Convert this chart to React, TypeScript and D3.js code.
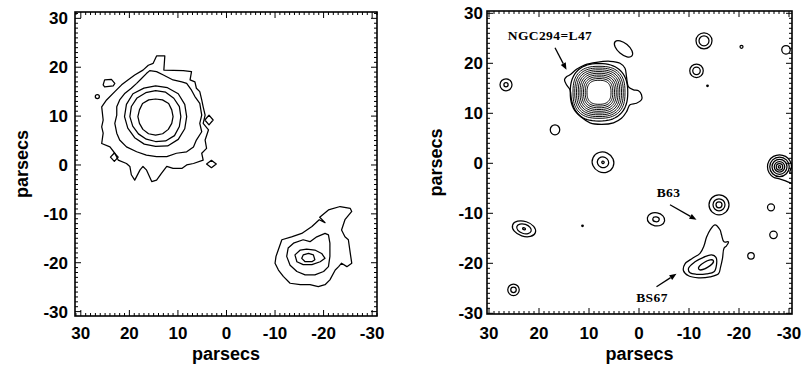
import React from "react";
import * as d3 from "d3";

type P = [number, number];

// ---------------- shared axis data ----------------
const TICKS = [30, 20, 10, 0, -10, -20, -30];
const AXIS_TITLE = "parsecs";

// ---------------- left panel (parsecs) ----------------
const LEFT_X_DOMAIN: P = [31.2, -31.0];
const LEFT_Y_DOMAIN: P = [31.3, -30.9];

const bigCenter: P = [14.6, 9.9];
// radii at 16 directions (E, ENE, NE, ... counter-clockwise on screen)
const bigRingRadii: number[][] = [
  [3.6, 3.6, 3.8, 3.7, 3.6, 3.7, 3.8, 3.6, 3.65, 3.6, 3.7, 3.8, 3.8, 3.8, 3.7, 3.6],
  [5.2, 5.3, 5.3, 5.4, 5.3, 5.3, 5.4, 5.4, 5.3, 5.1, 5.0, 5.0, 5.1, 5.4, 5.5, 5.3],
  [6.4, 6.5, 6.6, 6.4, 6.3, 6.3, 6.6, 6.5, 6.4, 6.2, 6.1, 6.1, 6.1, 6.5, 6.6, 6.5],
];

const bigContour4: P[] = [
  [15.8, 19.3], [14.4, 19.1], [13.0, 18.4], [11.0, 17.4], [9.2, 17.0], [8.2, 16.7],
  [7.2, 15.3], [6.5, 14.0], [5.5, 12.6], [5.1, 10.2], [5.5, 8.5], [5.1, 6.8],
  [6.2, 5.1], [6.8, 3.7], [8.2, 2.7], [10.3, 2.4], [12.3, 1.7], [14.4, 1.7],
  [16.5, 2.0], [18.5, 2.7], [20.6, 3.7], [22.0, 5.1], [22.6, 6.5], [23.0, 8.5],
  [22.6, 10.2], [22.6, 11.9], [22.0, 13.3], [20.9, 14.7], [19.6, 15.7], [18.5, 16.7],
  [17.5, 17.7], [16.5, 18.7],
];

const bigOuter: P[] = [
  [14.4, 22.3], [12.7, 22.3], [12.9, 19.4], [8.9, 19.3], [7.2, 19.1], [7.5, 17.4],
  [6.5, 17.0], [6.2, 15.7], [5.5, 15.0], [5.1, 13.3], [4.8, 11.9], [4.4, 10.2],
  [4.8, 8.5], [3.7, 7.2], [4.4, 5.1], [4.1, 3.4], [5.1, 2.4], [4.8, 1.0],
  [6.8, 0.3], [8.2, 0.0], [9.2, -0.7], [11.0, -0.7], [12.3, -0.3], [13.4, -1.7],
  [14.4, -3.1], [15.4, -3.4], [16.5, -1.0], [17.2, -0.3], [17.8, -1.0], [18.9, -3.1],
  [19.6, -2.0], [19.9, -0.3], [20.6, 0.3], [22.3, 1.0], [23.0, 2.4], [24.0, 3.7],
  [25.7, 4.4], [25.4, 6.5], [25.7, 7.8], [25.4, 9.2], [25.7, 11.9], [24.7, 13.3],
  [23.0, 15.0], [21.6, 16.4], [20.3, 17.4], [18.9, 18.4], [17.2, 19.4], [16.1, 20.4],
  [15.1, 20.8],
];

const islandPolys: P[][] = [
  [[25.1, 17.4], [23.7, 17.5], [23.0, 16.7], [23.3, 16.2], [25.1, 16.0], [25.4, 16.4]],
];
// small islands: centre + radii at E, N, W, S
const islandDiamonds: { c: P; r: number[] }[] = [
  { c: [3.6, 9.2], r: [0.85, 1.0, 0.85, 1.0] },
  { c: [23.1, 1.6], r: [0.8, 0.85, 0.8, 0.85] },
  { c: [3.1, 0.2], r: [1.0, 0.75, 1.0, 0.75] },
];
const islandCircles: { c: P; r: number }[] = [{ c: [26.6, 14.0], r: 0.42 }];

const southOuter: P[] = [
  [-10.2, -18.7], [-11.4, -15.3], [-13.4, -14.7], [-15.5, -14.0], [-17.6, -12.6],
  [-19.1, -11.2], [-20.3, -11.8], [-19.2, -10.7], [-21.0, -9.2], [-23.4, -8.5],
  [-25.5, -8.9], [-25.8, -9.5], [-24.4, -11.2], [-23.7, -13.3], [-24.4, -14.7],
  [-25.1, -15.3], [-25.5, -18.1], [-25.8, -20.1], [-24.8, -20.8], [-23.7, -20.1],
  [-23.1, -20.8], [-22.4, -21.5], [-21.3, -23.5], [-20.3, -24.5], [-18.9, -24.9],
  [-17.2, -24.5], [-15.2, -24.5], [-13.1, -24.2], [-11.7, -22.8], [-10.7, -21.5],
  [-10.0, -20.1],
];
const southMiddle: P[] = [
  [-12.4, -18.7], [-12.7, -17.0], [-13.8, -16.0], [-15.8, -15.3], [-17.2, -15.7],
  [-18.6, -14.7], [-20.3, -14.0], [-21.0, -14.3], [-21.3, -16.0], [-21.3, -18.7],
  [-21.0, -20.8], [-20.0, -21.8], [-18.2, -22.5], [-16.2, -22.5], [-14.5, -21.8],
  [-13.1, -20.5],
];
const southRing2: P[] = [
  [-14.1, -18.4], [-15.2, -17.4], [-16.5, -17.2], [-18.2, -17.4], [-19.6, -18.1],
  [-20.3, -19.1], [-19.3, -19.8], [-17.6, -20.4], [-15.8, -20.4], [-14.5, -19.8],
];
const southInner: P[] = [
  [-15.5, -19.1], [-15.8, -18.4], [-16.9, -18.1], [-17.9, -18.4], [-18.2, -19.4],
  [-17.6, -19.8], [-16.2, -19.8],
];

// ---------------- right panel (parsecs) ----------------
const RIGHT_X_DOMAIN: P = [30.4, -30.6];
const RIGHT_Y_DOMAIN: P = [30.46, -30.14];

const ngcCenter: P = [8.0, 14.2];
const ngcStackRadii = [5.2, 4.85, 4.5, 4.15, 3.8, 3.45, 3.1, 2.75, 2.4];
const ngcSecondRadius = 5.75;
const ngcOuter: P[] = [
  [14.5, 17.3], [13.8, 17.7], [12.5, 18.8], [10.8, 19.7], [8.5, 20.2], [5.8, 20.4],
  [3.8, 20.0], [2.8, 19.0], [2.5, 17.3], [2.1, 15.3], [1.1, 14.7], [0.1, 14.5],
  [-0.5, 13.7], [-0.5, 12.7], [0.5, 12.0], [1.8, 11.7], [2.5, 10.3], [3.5, 9.0],
  [5.1, 8.1], [7.5, 7.8], [9.8, 8.1], [11.5, 9.2], [12.8, 10.7], [13.5, 12.7],
  [13.8, 14.7], [14.5, 15.7], [14.9, 16.7],
];

// concentric sources: centre, ring radii, axis ratio, tilt (screen degrees)
const ringSources: { c: P; radii: number[]; ratio?: number; angle?: number }[] = [
  { c: [26.6, 15.7], radii: [1.2, 0.42] },
  { c: [16.8, 6.7], radii: [0.95], ratio: 1.05 },
  { c: [7.2, 0.2], radii: [2.2, 1.15, 0.25], ratio: 0.92, angle: 25 },
  { c: [23.0, -13.1], radii: [2.4, 1.5, 0.3], ratio: 0.62, angle: 18 },
  { c: [25.1, -25.3], radii: [1.15, 0.55] },
  { c: [-3.4, -11.2], radii: [1.75, 0.65], ratio: 0.75, angle: 10 },
  { c: [3.1, 22.9], radii: [2.2], ratio: 0.5, angle: 40 },
  { c: [-13.0, 24.5], radii: [1.6, 1.0] },
  { c: [-11.5, 18.5], radii: [1.35, 0.75] },
  { c: [-20.5, 23.3], radii: [0.3] },
  { c: [-29.4, 22.7], radii: [0.85] },
  { c: [-16.0, -8.3], radii: [2.0, 1.2, 0.6] },
  { c: [-26.4, -8.8], radii: [0.7] },
  { c: [-26.9, -14.3], radii: [0.75] },
  { c: [-22.4, -18.5], radii: [0.65] },
  { c: [-28.1, -0.7], radii: [1.95, 1.5, 1.05, 0.65, 0.25] },
];
const dotSources: P[] = [[11.3, -12.5], [-13.7, 15.5]];

const edgeSourceOuter: P[] = [
  [-30.18, -1.9], [-30.5, -0.7], [-30.18, 0.5], [-29.3, 1.38], [-28.1, 1.7],
  [-26.9, 1.38], [-26.02, 0.5], [-25.7, -0.7], [-26.02, -1.9], [-26.9, -2.78],
  [-28.1, -3.1], [-29.0, -3.4], [-30.0, -3.8], [-31.5, -4.2], [-31.5, -2.0],
];

const b63Outer: P[] = [
  [-15.2, -12.3], [-16.2, -13.3], [-16.5, -14.3], [-17.0, -15.7], [-17.9, -15.7],
  [-17.5, -16.5], [-17.0, -17.0], [-16.7, -19.0], [-16.3, -20.8], [-15.9, -22.1],
  [-14.2, -22.7], [-11.9, -22.9], [-9.9, -22.5], [-8.9, -21.5], [-9.2, -20.1],
  [-10.7, -19.0], [-12.2, -18.0], [-13.0, -16.5], [-13.5, -14.8], [-14.3, -13.2],
];
const bs67Middle: P[] = [
  [-9.9, -21.0], [-11.2, -19.7], [-12.9, -18.8], [-14.5, -18.3], [-15.4, -18.8],
  [-15.5, -20.3], [-15.0, -21.7], [-13.5, -22.1], [-11.5, -22.2], [-10.2, -21.9],
];
const bs67Inner = { c: [-13.4, -20.3] as P, a: 1.7, b: 0.6, angle: -30 };

const labelTexts = ["NGC294=L47", "B63", "BS67"];
const labelPositions: P[] = [[17.8, 25.5], [-5.9, -5.8], [-2.6, -26.8]];
const arrowFrom: P[] = [[16.8, 23.1], [-6.2, -8.3], [-3.5, -24.7]];
const arrowTo: P[] = [[14.5, 18.7], [-11.5, -11.3], [-7.5, -22.1]];

// ---------------- layout ----------------
const LEFT_FRAME = { x0: 75, x1: 377, y0: 12, y1: 316, labelGap: 7, titleX: 28 };
const RIGHT_FRAME = { x0: 487, x1: 792, y0: 11, y1: 314, labelGap: 4, titleX: 442 };
const SANS = "'Liberation Sans', Arial, Helvetica, sans-serif";
const SERIF = "'Liberation Serif', 'Times New Roman', serif";

type Frame = typeof LEFT_FRAME;

function Axes({ f, xs, ys, id }: { f: Frame; xs: d3.ScaleLinear<number, number>; ys: d3.ScaleLinear<number, number>; id: string }) {
  const xd = xs.domain();
  const yd = ys.domain();
  const xv = d3.range(Math.ceil(Math.min(...xd)), Math.floor(Math.max(...xd)) + 1);
  const yv = d3.range(Math.ceil(Math.min(...yd)), Math.floor(Math.max(...yd)) + 1);
  const len = (v: number) => (v % 10 === 0 ? 6 : 3);
  return (
    <g>
      {xv.map((v) => (
        <g key={id + "x" + v}>
          <line x1={xs(v)} x2={xs(v)} y1={f.y1} y2={f.y1 - len(v)} stroke="#000" strokeWidth={1} />
          <line x1={xs(v)} x2={xs(v)} y1={f.y0} y2={f.y0 + len(v)} stroke="#000" strokeWidth={1} />
        </g>
      ))}
      {yv.map((v) => (
        <g key={id + "y" + v}>
          <line y1={ys(v)} y2={ys(v)} x1={f.x0} x2={f.x0 + len(v)} stroke="#000" strokeWidth={1} />
          <line y1={ys(v)} y2={ys(v)} x1={f.x1} x2={f.x1 - len(v)} stroke="#000" strokeWidth={1} />
        </g>
      ))}
      <rect x={f.x0} y={f.y0} width={f.x1 - f.x0} height={f.y1 - f.y0} fill="none" stroke="#000" strokeWidth={1.6} />
      {TICKS.map((t) => (
        <text key={id + "xl" + t} x={xs(t)} y={339} textAnchor="middle" fontFamily={SANS} fontWeight="bold" fontSize={17}>
          {t}
        </text>
      ))}
      {TICKS.map((t) => (
        <text key={id + "yl" + t} x={f.x0 - f.labelGap} y={ys(t) + 6} textAnchor="end" fontFamily={SANS} fontWeight="bold" fontSize={17}>
          {t}
        </text>
      ))}
      <text x={(f.x0 + f.x1) / 2} y={360} textAnchor="middle" fontFamily={SANS} fontWeight="bold" fontSize={18}>
        {AXIS_TITLE}
      </text>
      <text
        transform={`translate(${f.titleX},${(f.y0 + f.y1) / 2}) rotate(-90)`}
        textAnchor="middle"
        fontFamily={SANS}
        fontWeight="bold"
        fontSize={18}
      >
        {AXIS_TITLE}
      </text>
    </g>
  );
}

function polar(c: P, radii: number[]): P[] {
  const n = radii.length;
  return radii.map((r, i) => {
    const a = (i / n) * 2 * Math.PI;
    return [c[0] - r * Math.cos(a), c[1] + r * Math.sin(a)] as P;
  });
}

function superellipse(c: P, r: number, n: number, steps = 72): P[] {
  return d3.range(steps).map((i) => {
    const a = (i / steps) * 2 * Math.PI;
    const ca = Math.cos(a), sa = Math.sin(a);
    const px = Math.sign(ca) * Math.pow(Math.abs(ca), 2 / n);
    const py = Math.sign(sa) * Math.pow(Math.abs(sa), 2 / n);
    return [c[0] - r * px, c[1] + r * py] as P;
  });
}

export default function App() {
  const lx = d3.scaleLinear().domain(LEFT_X_DOMAIN).range([LEFT_FRAME.x0, LEFT_FRAME.x1]);
  const ly = d3.scaleLinear().domain(LEFT_Y_DOMAIN).range([LEFT_FRAME.y0, LEFT_FRAME.y1]);
  const rx = d3.scaleLinear().domain(RIGHT_X_DOMAIN).range([RIGHT_FRAME.x0, RIGHT_FRAME.x1]);
  const ry = d3.scaleLinear().domain(RIGHT_Y_DOMAIN).range([RIGHT_FRAME.y0, RIGHT_FRAME.y1]);

  const leftLine = d3.line<P>().x((d) => lx(d[0])).y((d) => ly(d[1])).curve(d3.curveLinearClosed);
  const rightSmooth = d3.line<P>().x((d) => rx(d[0])).y((d) => ry(d[1])).curve(d3.curveCatmullRomClosed.alpha(0.5));
  const rightLin = d3.line<P>().x((d) => rx(d[0])).y((d) => ry(d[1])).curve(d3.curveLinearClosed);

  const rkx = Math.abs(rx(1) - rx(0));
  const rky = Math.abs(ry(1) - ry(0));
  const lkx = Math.abs(lx(1) - lx(0));

  const leftPaths: string[] = [
    ...bigRingRadii.map((r) => leftLine(polar(bigCenter, r)) || ""),
    leftLine(bigContour4) || "",
    leftLine(bigOuter) || "",
    ...islandPolys.map((p) => leftLine(p) || ""),
    ...islandDiamonds.map((d) => leftLine(polar(d.c, d.r)) || ""),
    leftLine(southOuter) || "",
    leftLine(southMiddle) || "",
    leftLine(southRing2) || "",
    leftLine(southInner) || "",
  ];

  const stroke = { fill: "none", stroke: "#000", strokeWidth: 1.25, strokeLinejoin: "round" as const };

  return (
    <svg width={805} height={367} style={{ position: "absolute", left: 0, top: 0, background: "#fff" }}>
      <defs>
        <clipPath id="clipL">
          <rect x={LEFT_FRAME.x0} y={LEFT_FRAME.y0} width={LEFT_FRAME.x1 - LEFT_FRAME.x0} height={LEFT_FRAME.y1 - LEFT_FRAME.y0} />
        </clipPath>
        <clipPath id="clipR">
          <rect x={RIGHT_FRAME.x0} y={RIGHT_FRAME.y0} width={RIGHT_FRAME.x1 - RIGHT_FRAME.x0} height={RIGHT_FRAME.y1 - RIGHT_FRAME.y0} />
        </clipPath>
      </defs>
      <rect x={0} y={0} width={805} height={367} fill="#fff" />

      {/* left panel */}
      <g clipPath="url(#clipL)">
        {leftPaths.map((d, i) => (
          <path key={"lp" + i} d={d} {...stroke} />
        ))}
        {islandCircles.map((c, i) => (
          <circle key={"lc" + i} cx={lx(c.c[0])} cy={ly(c.c[1])} r={c.r * lkx} {...stroke} />
        ))}
      </g>
      <Axes f={LEFT_FRAME} xs={lx} ys={ly} id="L" />

      {/* right panel */}
      <g clipPath="url(#clipR)">
        <path d={rightSmooth(ngcOuter) || ""} {...stroke} />
        <path d={rightLin(superellipse(ngcCenter, ngcSecondRadius, 2.4)) || ""} {...stroke} />
        {ngcStackRadii.map((r, i) => (
          <path key={"ngc" + i} d={rightLin(superellipse(ngcCenter, r, 2.6)) || ""} {...stroke} strokeWidth={0.95} />
        ))}
        {ringSources.map((s, i) =>
          s.radii.map((r, j) => (
            <ellipse
              key={"rs" + i + "-" + j}
              cx={rx(s.c[0])}
              cy={ry(s.c[1])}
              rx={r * rkx}
              ry={r * (s.ratio ?? 1) * rky}
              transform={`rotate(${s.angle ?? 0},${rx(s.c[0])},${ry(s.c[1])})`}
              {...stroke}
            />
          ))
        )}
        {dotSources.map((c, i) => (
          <circle key={"dot" + i} cx={rx(c[0])} cy={ry(c[1])} r={0.28 * rkx} fill="#000" />
        ))}
        <path d={rightSmooth(edgeSourceOuter) || ""} {...stroke} />
        <path d={rightSmooth(b63Outer) || ""} {...stroke} />
        <path d={rightSmooth(bs67Middle) || ""} {...stroke} />
        <ellipse
          cx={rx(bs67Inner.c[0])}
          cy={ry(bs67Inner.c[1])}
          rx={bs67Inner.a * rkx}
          ry={bs67Inner.b * rky}
          transform={`rotate(${bs67Inner.angle},${rx(bs67Inner.c[0])},${ry(bs67Inner.c[1])})`}
          {...stroke}
        />
        {arrowFrom.map((a, i) => {
          const x1 = rx(a[0]), y1 = ry(a[1]);
          const x2 = rx(arrowTo[i][0]), y2 = ry(arrowTo[i][1]);
          const ang = Math.atan2(y2 - y1, x2 - x1);
          const hl = 7, hw = 2.8;
          const bx = x2 - hl * Math.cos(ang), by = y2 - hl * Math.sin(ang);
          const pts = [
            [x2, y2],
            [bx + hw * Math.sin(ang), by - hw * Math.cos(ang)],
            [bx - hw * Math.sin(ang), by + hw * Math.cos(ang)],
          ];
          return (
            <g key={"ar" + i}>
              <line x1={x1} y1={y1} x2={bx} y2={by} stroke="#000" strokeWidth={1.3} />
              <polygon points={pts.map((p) => p.join(",")).join(" ")} fill="#000" />
            </g>
          );
        })}
        {labelTexts.map((t, i) => (
          <text
            key={"lab" + i}
            x={rx(labelPositions[i][0])}
            y={ry(labelPositions[i][1]) + 4.5}
            textAnchor="middle"
            fontFamily={SERIF}
            fontWeight="bold"
            fontSize={13.5}
            letterSpacing={0.4}
          >
            {t}
          </text>
        ))}
      </g>
      <Axes f={RIGHT_FRAME} xs={rx} ys={ry} id="R" />
    </svg>
  );
}
